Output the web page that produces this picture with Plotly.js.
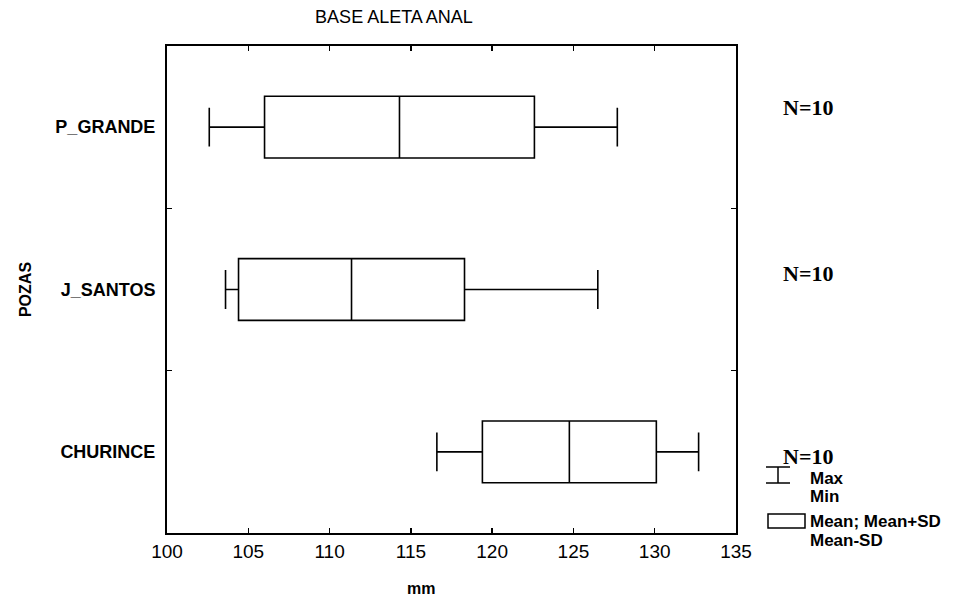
<!DOCTYPE html>
<html>
<head>
<meta charset="utf-8">
<script src="https://cdn.plot.ly/plotly-3.0.1.min.js"></script>
<style>html,body{margin:0;padding:0;background:#fff;}</style>
</head>
<body>
<div id="chart" style="width:975px;height:597px;"></div>
<script>
// Data (bottom to top)
const categories = ['CHURINCE', 'J_SANTOS', 'P_GRANDE'];
const means = [124.75, 111.35, 114.3];
const sds = [5.35, 6.95, 8.3];
const mins = [116.6, 103.6, 102.6];
const maxs = [132.7, 126.5, 127.7];
const nLabels = ['N=10', 'N=10', 'N=10'];
const xTicks = [100, 105, 110, 115, 120, 125, 130, 135];

const L = 167, R = 736, T = 46, B = 533;
const W = R - L, H = B - T;
const px = x => (x - L) / W;
const py = y => 1 - (y - T) / H;

const trace = {
  type: 'box',
  orientation: 'h',
  y: categories,
  q1: means.map((m, i) => m - sds[i]),
  median: means,
  q3: means.map((m, i) => m + sds[i]),
  lowerfence: mins,
  upperfence: maxs,
  boxpoints: false,
  width: 0.38,
  whiskerwidth: 0.63,
  fillcolor: '#ffffff',
  line: {color: '#000000', width: 1.6},
  hoverinfo: 'skip',
  showlegend: false
};

const fontMain = 'Liberation Sans, Arial, sans-serif';
const nY = [456, 273, 107];
const annotations = categories.map((c, i) => ({
  xref: 'paper', yref: 'paper', x: px(781), y: py(nY[i]),
  xanchor: 'left', yanchor: 'middle', showarrow: false,
  text: nLabels[i],
  font: {family: 'Liberation Serif, Times New Roman, serif', size: 22, color: '#000', weight: 'bold'}
}));
const legendTexts = [
  ['Max', 478], ['Min', 496], ['Mean; Mean+SD', 521], ['Mean-SD', 540]
];
legendTexts.forEach(([t, y]) => annotations.push({
  xref: 'paper', yref: 'paper', x: px(808), y: py(y),
  xanchor: 'left', yanchor: 'middle', showarrow: false, text: t,
  font: {family: fontMain, size: 17, color: '#000', weight: 'bold'}
}));
// x-axis title (placed as in the reference, left of plot centre)
annotations.push({
  xref: 'paper', yref: 'paper', x: px(421), y: py(588),
  xanchor: 'center', yanchor: 'middle', showarrow: false, text: 'mm',
  font: {family: fontMain, size: 16, color: '#000', weight: 'bold'}
});

const lineStyle = {color: '#000', width: 1.5};
const shapes = [
  {type: 'line', xref: 'paper', yref: 'paper', x0: px(766), x1: px(790), y0: py(467), y1: py(467), line: lineStyle},
  {type: 'line', xref: 'paper', yref: 'paper', x0: px(766), x1: px(790), y0: py(483), y1: py(483), line: lineStyle},
  {type: 'line', xref: 'paper', yref: 'paper', x0: px(778), x1: px(778), y0: py(467), y1: py(483), line: lineStyle},
  {type: 'rect', xref: 'paper', yref: 'paper', x0: px(768), x1: px(805), y0: py(514), y1: py(528), line: lineStyle, fillcolor: 'rgba(0,0,0,0)'}
];

const layout = {
  width: 975, height: 597,
  margin: {l: L, r: 975 - R, t: T, b: 597 - B, pad: 0},
  paper_bgcolor: '#fff', plot_bgcolor: '#fff',
  font: {family: fontMain, color: '#000'},
  title: {
    text: 'BASE ALETA ANAL',
    xref: 'container', yref: 'container',
    x: 394 / 975, xanchor: 'center', y: 1 - 17 / 597, yanchor: 'middle',
    font: {family: fontMain, size: 18, color: '#000'}
  },
  xaxis: {
    range: [100, 135], tickvals: xTicks, ticktext: xTicks.map(String),
    ticks: 'inside', ticklen: 5, tickwidth: 1.5, tickcolor: '#000',
    showline: true, linecolor: '#000', linewidth: 2, mirror: 'ticks',
    showgrid: false, zeroline: false,
    tickfont: {family: fontMain, size: 19, color: '#000'}
  },
  yaxis: {
    type: 'category', categoryorder: 'array', categoryarray: categories,
    range: [-0.5, 2.5], tickson: 'boundaries',
    ticks: 'inside', ticklen: 5, tickwidth: 1.5, tickcolor: '#000',
    showline: true, linecolor: '#000', linewidth: 2, mirror: 'ticks',
    showgrid: false, zeroline: false,
    ticklabelstandoff: 6,
    tickfont: {family: fontMain, size: 18, color: '#000', weight: 'bold'},
    title: {text: 'POZAS', standoff: 20, font: {family: fontMain, size: 16, color: '#000', weight: 'bold'}}
  },
  annotations: annotations,
  shapes: shapes,
  showlegend: false
};

Plotly.newPlot('chart', [trace], layout, {displayModeBar: false, staticPlot: true});
</script>
</body>
</html>
